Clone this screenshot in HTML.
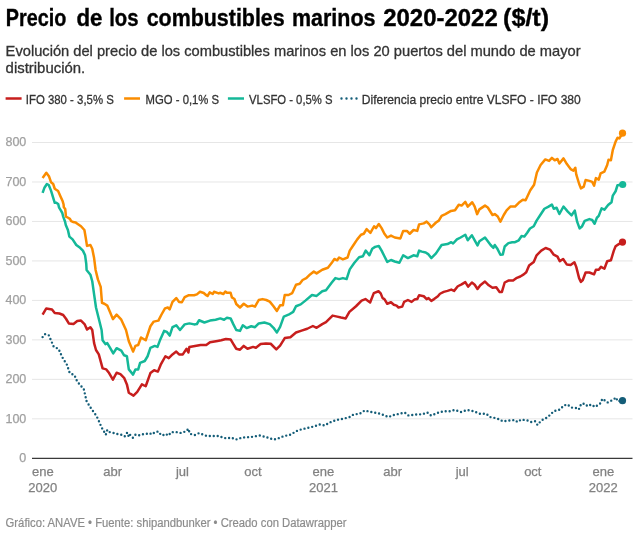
<!DOCTYPE html>
<html><head><meta charset="utf-8">
<style>
html,body{margin:0;padding:0;background:#fff;}
body{width:640px;height:535px;overflow:hidden;position:relative;}
svg{position:absolute;left:0;top:0;display:block;will-change:transform;}
text{font-family:"Liberation Sans", sans-serif;}
.title{font-size:23.3px;font-weight:bold;fill:#000;stroke:#000;stroke-width:0.35px;}
.sub{font-size:14.5px;fill:#333;stroke:#333;stroke-width:0.3px;}
.leg{font-size:13px;fill:#333;stroke:#333;stroke-width:0.3px;}
.ax{font-size:12.5px;fill:#a0a0a0;stroke:#a0a0a0;stroke-width:0.25px;}
.ax2{font-size:13px;fill:#828282;stroke:#828282;stroke-width:0.25px;}
.foot{font-size:12.3px;fill:#8c8c8c;stroke:#8c8c8c;stroke-width:0.2px;}
</style></head><body>
<svg width="640" height="535" viewBox="0 0 640 535">
<text x="5.75" y="25.9" class="title" textLength="60.55" lengthAdjust="spacingAndGlyphs">Precio</text><text x="76.50" y="25.9" class="title" textLength="26.00" lengthAdjust="spacingAndGlyphs">de</text><text x="109.20" y="25.9" class="title" textLength="29.30" lengthAdjust="spacingAndGlyphs">los</text><text x="146.70" y="25.9" class="title" textLength="138.00" lengthAdjust="spacingAndGlyphs">combustibles</text><text x="291.90" y="25.9" class="title" textLength="83.60" lengthAdjust="spacingAndGlyphs">marinos</text><text x="383.25" y="25.9" class="title" textLength="114.45" lengthAdjust="spacingAndGlyphs">2020-2022</text><text x="503.10" y="25.9" class="title" textLength="46.00" lengthAdjust="spacingAndGlyphs">($/t)</text>
<text x="5.6" y="55.8" class="sub" textLength="575" lengthAdjust="spacingAndGlyphs">Evolución del precio de los combustibles marinos en los 20 puertos del mundo de mayor</text>
<text x="5.6" y="73.2" class="sub" textLength="79.6" lengthAdjust="spacingAndGlyphs">distribución.</text>
<line x1="5.6" x2="21.6" y1="98.5" y2="98.5" stroke="#c71e1d" stroke-width="2.5"/>
<text x="25.8" y="103.75" class="leg" textLength="88" lengthAdjust="spacingAndGlyphs">IFO 380 - 3,5% S</text>
<line x1="124.1" x2="140" y1="98.5" y2="98.5" stroke="#fa8c00" stroke-width="2.5"/>
<text x="145.6" y="103.75" class="leg" textLength="73.5" lengthAdjust="spacingAndGlyphs">MGO - 0,1% S</text>
<line x1="227.9" x2="244" y1="98.5" y2="98.5" stroke="#14b898" stroke-width="2.5"/>
<text x="249.1" y="103.75" class="leg" textLength="83.4" lengthAdjust="spacingAndGlyphs">VLSFO - 0,5% S</text>
<line x1="341.5" x2="357.5" y1="98.5" y2="98.5" stroke="#145d78" stroke-width="2.4" stroke-dasharray="0 5" stroke-linecap="round"/>
<text x="361.8" y="103.75" class="leg" textLength="219" lengthAdjust="spacingAndGlyphs">Diferencia precio entre VLSFO - IFO 380</text>
<line x1="32" x2="632.5" y1="418.82" y2="418.82" stroke="#e6e6e6" stroke-width="1"/><line x1="32" x2="632.5" y1="379.35" y2="379.35" stroke="#e6e6e6" stroke-width="1"/><line x1="32" x2="632.5" y1="339.88" y2="339.88" stroke="#e6e6e6" stroke-width="1"/><line x1="32" x2="632.5" y1="300.40" y2="300.40" stroke="#e6e6e6" stroke-width="1"/><line x1="32" x2="632.5" y1="260.93" y2="260.93" stroke="#e6e6e6" stroke-width="1"/><line x1="32" x2="632.5" y1="221.45" y2="221.45" stroke="#e6e6e6" stroke-width="1"/><line x1="32" x2="632.5" y1="181.98" y2="181.98" stroke="#e6e6e6" stroke-width="1"/><line x1="32" x2="632.5" y1="142.50" y2="142.50" stroke="#e6e6e6" stroke-width="1"/>
<line x1="32" x2="632.5" y1="458.4" y2="458.4" stroke="#3a3a3a" stroke-width="1.3"/>
<text x="26.3" y="462.20" text-anchor="end" class="ax">0</text><text x="26.3" y="422.72" text-anchor="end" class="ax">100</text><text x="26.3" y="383.25" text-anchor="end" class="ax">200</text><text x="26.3" y="343.77" text-anchor="end" class="ax">300</text><text x="26.3" y="304.30" text-anchor="end" class="ax">400</text><text x="26.3" y="264.82" text-anchor="end" class="ax">500</text><text x="26.3" y="225.35" text-anchor="end" class="ax">600</text><text x="26.3" y="185.88" text-anchor="end" class="ax">700</text><text x="26.3" y="146.40" text-anchor="end" class="ax">800</text><text x="42.8" y="476.1" text-anchor="middle" class="ax2">ene</text><text x="42.8" y="491.75" text-anchor="middle" class="ax2">2020</text><text x="112.6" y="476.1" text-anchor="middle" class="ax2">abr</text><text x="182.4" y="476.1" text-anchor="middle" class="ax2">jul</text><text x="252.9" y="476.1" text-anchor="middle" class="ax2">oct</text><text x="323.4" y="476.1" text-anchor="middle" class="ax2">ene</text><text x="323.4" y="491.75" text-anchor="middle" class="ax2">2021</text><text x="392.6" y="476.1" text-anchor="middle" class="ax2">abr</text><text x="462.2" y="476.1" text-anchor="middle" class="ax2">jul</text><text x="532.8" y="476.1" text-anchor="middle" class="ax2">oct</text><text x="603.3" y="476.1" text-anchor="middle" class="ax2">ene</text><text x="603.3" y="491.75" text-anchor="middle" class="ax2">2022</text>
<path d="M42.60,337.10 L45.00,334.10 L48.75,335.25 L51.00,340.30 L53.80,346.90 L58.50,348.75 L62.25,357.20 L66.90,364.70 L69.75,373.10 L74.40,375.00 L77.25,381.60 L83.80,389.10 L86.60,401.25 L91.30,408.75 L96.00,415.30 L97.90,418.75 L99.75,423.10 L101.60,427.50 L103.50,430.60 L105.75,434.75 L107.25,430.00 L108.50,431.90 L112.25,432.50 L116.00,433.75 L119.10,434.40 L122.90,435.00 L124.75,436.25 L127.25,432.50 L128.75,436.60 L129.75,434.40 L132.90,437.75 L135.40,434.75 L138.50,435.60 L140.40,434.75 L144.10,434.00 L146.00,434.00 L149.75,433.10 L151.60,434.40 L155.40,431.90 L158.50,431.50 L161.00,435.00 L162.90,435.25 L165.40,433.75 L168.50,435.60 L171.00,432.25 L176.00,432.00 L181.00,433.00 L186.00,431.25 L188.50,428.75 L189.75,433.75 L194.75,435.00 L199.10,433.10 L203.20,434.70 L207.00,436.00 L219.10,436.00 L223.20,437.80 L227.00,438.40 L231.00,437.50 L236.00,439.50 L242.25,437.50 L251.00,437.00 L259.75,435.50 L267.25,437.50 L273.50,439.50 L277.25,438.75 L283.50,436.25 L291.00,434.50 L296.00,431.25 L301.00,429.50 L307.25,428.00 L314.75,426.25 L319.75,424.50 L324.75,425.50 L329.75,422.50 L336.00,420.00 L343.50,418.75 L349.75,417.00 L353.50,414.50 L359.75,413.75 L364.75,410.50 L371.00,412.00 L377.25,413.00 L382.25,414.50 L388.50,417.00 L393.50,415.00 L399.75,413.75 L404.75,412.50 L408.50,415.50 L416.00,414.50 L422.25,414.25 L427.25,412.50 L431.00,415.50 L437.25,413.00 L443.50,411.25 L449.75,411.25 L454.75,410.00 L461.00,412.00 L467.25,410.00 L473.50,411.25 L480.00,413.75 L486.25,413.75 L490.00,417.00 L495.00,418.00 L500.00,419.50 L502.50,421.25 L510.00,420.50 L515.00,420.00 L517.50,422.00 L521.25,419.50 L527.50,420.50 L531.25,422.00 L535.00,421.25 L537.50,425.00 L541.25,420.50 L546.25,418.00 L550.00,415.00 L553.75,411.25 L560.00,409.50 L563.75,405.50 L567.50,404.50 L571.25,407.50 L576.25,408.00 L578.75,409.50 L581.25,403.75 L585.00,403.75 L587.50,406.25 L591.25,404.50 L595.00,407.00 L600.00,403.75 L602.50,398.75 L607.50,402.50 L612.50,400.00 L616.25,397.50 L617.50,401.25 L622.50,400.75" fill="none" stroke="#145d78" stroke-width="2.4" stroke-dasharray="0 3.95" stroke-linecap="round" stroke-linejoin="round"/>
<path d="M42.60,314.60 L46.30,308.40 L52.00,309.40 L54.75,313.10 L59.40,313.50 L63.20,315.00 L66.00,318.75 L68.80,323.40 L73.50,324.00 L77.25,321.00 L81.00,320.60 L84.75,324.40 L87.00,329.60 L90.40,327.20 L92.25,330.00 L94.10,343.10 L96.00,350.00 L98.80,354.40 L102.60,368.40 L106.30,369.40 L109.10,373.10 L112.90,379.70 L116.60,372.75 L120.40,374.10 L124.10,377.80 L126.90,384.40 L128.80,392.80 L133.50,395.60 L137.25,391.90 L141.90,384.40 L145.70,386.25 L150.40,373.10 L154.10,370.30 L157.90,371.60 L160.70,364.70 L165.40,356.25 L168.75,358.10 L172.50,354.40 L176.25,351.60 L179.10,354.40 L182.80,354.40 L186.60,348.75 L188.40,352.50 L189.40,346.90 L195.00,345.90 L200.60,345.00 L206.25,345.00 L210.00,342.20 L217.50,340.90 L221.25,340.30 L225.90,339.00 L230.60,339.40 L233.40,344.10 L236.25,348.75 L240.00,349.70 L243.75,345.90 L247.50,348.75 L253.10,346.90 L255.90,347.80 L260.60,344.10 L266.00,343.40 L270.70,343.75 L276.30,349.40 L280.10,345.60 L284.75,338.10 L290.40,337.20 L296.00,332.50 L301.60,330.60 L307.25,328.75 L312.90,326.00 L316.60,327.80 L322.25,324.10 L326.00,322.20 L332.60,315.60 L337.25,316.60 L341.00,317.50 L345.70,318.40 L349.40,311.90 L356.00,306.25 L361.60,300.60 L365.40,299.10 L370.10,302.50 L373.80,293.10 L378.50,291.25 L380.70,293.40 L382.60,298.10 L384.40,299.10 L387.25,303.75 L391.00,302.25 L393.80,304.70 L396.60,305.60 L398.50,307.50 L402.25,306.60 L404.10,301.90 L407.90,300.00 L411.60,301.90 L414.40,299.60 L417.25,299.10 L419.10,295.30 L423.80,296.25 L426.60,299.10 L428.50,298.10 L431.30,300.90 L434.10,299.10 L437.90,296.25 L440.00,293.75 L443.75,291.90 L447.50,290.90 L451.25,289.60 L454.10,290.90 L457.80,286.25 L461.60,284.40 L465.30,282.10 L468.10,286.60 L471.90,282.50 L474.70,284.75 L477.50,289.00 L480.30,285.30 L485.00,281.60 L488.75,285.30 L492.50,287.75 L496.25,287.20 L499.60,291.90 L501.90,291.90 L504.70,282.50 L508.40,280.60 L513.10,280.60 L516.90,277.80 L520.30,276.50 L523.75,274.40 L526.25,272.20 L529.10,265.60 L533.75,261.90 L536.60,255.30 L541.25,250.60 L545.60,248.00 L550.00,249.60 L553.75,254.70 L557.50,256.60 L559.75,261.25 L563.10,259.00 L566.90,264.60 L570.60,265.00 L574.40,262.20 L576.25,266.90 L579.10,278.10 L580.90,281.90 L582.80,280.00 L585.60,272.50 L589.40,272.50 L594.10,274.40 L595.90,269.70 L598.75,269.70 L601.00,266.90 L604.40,268.75 L607.20,261.25 L610.90,260.30 L613.75,250.90 L615.60,246.25 L618.40,244.40 L622.50,242.00" fill="none" stroke="#c71e1d" stroke-width="2.5" stroke-linejoin="round"/>
<path d="M42.60,192.90 L44.40,187.80 L46.90,184.00 L48.75,185.00 L51.00,190.60 L54.75,202.80 L56.00,202.70 L58.20,204.00 L59.10,207.60 L60.50,209.90 L62.30,213.00 L63.20,216.60 L65.00,221.50 L65.80,225.00 L67.90,230.00 L69.40,236.60 L72.60,239.40 L76.30,245.00 L80.10,247.80 L82.90,250.60 L85.10,255.30 L86.25,263.75 L86.60,270.00 L90.40,274.70 L92.25,281.25 L94.10,294.40 L96.00,307.50 L98.80,318.75 L101.60,330.00 L102.60,340.30 L105.40,344.10 L107.25,343.10 L110.10,347.80 L113.25,353.40 L116.60,348.20 L121.30,350.60 L124.10,355.30 L126.90,356.25 L128.80,369.40 L133.10,374.60 L135.40,369.40 L138.20,369.40 L140.10,362.80 L144.75,361.00 L147.60,356.25 L150.40,347.80 L154.70,345.90 L157.50,346.90 L160.30,339.40 L164.10,330.90 L166.90,331.90 L169.70,335.60 L172.50,327.20 L176.25,325.30 L180.00,330.00 L184.70,324.40 L189.40,323.40 L194.10,324.40 L196.90,324.00 L199.10,320.25 L204.40,322.50 L210.00,320.60 L215.60,319.70 L220.30,318.40 L224.10,319.70 L226.90,317.80 L230.60,318.40 L233.40,324.40 L236.25,330.00 L240.00,330.90 L242.80,325.30 L246.60,328.10 L251.25,326.25 L255.00,327.20 L258.75,323.40 L264.40,322.50 L269.75,324.10 L273.50,327.80 L276.90,332.50 L280.10,326.90 L283.80,316.60 L288.50,314.70 L293.20,311.90 L296.00,306.25 L300.70,304.40 L305.40,300.60 L312.00,295.00 L316.60,295.90 L322.25,291.25 L326.00,290.30 L331.60,282.80 L335.40,278.10 L339.10,279.10 L342.90,278.10 L346.60,279.10 L349.75,269.40 L354.40,262.80 L359.10,257.20 L362.90,256.25 L365.70,250.60 L369.40,255.30 L372.25,248.75 L375.10,246.90 L378.80,246.00 L381.60,250.60 L384.40,256.25 L387.25,261.90 L391.00,260.00 L394.75,261.50 L399.40,262.80 L403.20,255.30 L407.90,258.10 L413.50,255.30 L417.25,256.25 L419.10,250.60 L421.90,251.60 L425.70,252.50 L428.50,254.40 L431.30,258.10 L436.00,253.40 L441.60,245.00 L447.50,244.10 L451.25,242.20 L453.10,243.50 L456.90,239.40 L460.60,237.50 L465.30,234.70 L467.75,240.30 L471.90,235.25 L474.70,240.30 L477.50,245.40 L479.40,241.25 L485.00,237.50 L487.80,241.25 L490.60,245.00 L493.40,247.80 L494.75,245.00 L497.20,248.40 L500.40,254.75 L502.80,254.40 L504.70,246.50 L508.40,243.10 L512.20,242.20 L515.00,242.20 L518.75,240.30 L521.60,236.00 L524.40,236.60 L527.20,232.80 L530.00,228.50 L533.75,226.25 L536.60,220.60 L540.30,215.00 L544.40,208.75 L548.10,206.90 L551.90,204.60 L553.75,208.75 L556.60,207.80 L559.40,214.00 L563.50,206.50 L567.80,211.60 L571.60,215.30 L574.75,210.60 L577.20,221.90 L579.60,228.40 L581.90,226.60 L584.70,220.90 L589.40,219.10 L592.20,220.00 L594.60,223.75 L596.90,217.75 L598.75,215.90 L601.60,208.40 L604.40,209.70 L608.10,205.00 L611.50,202.20 L612.80,195.60 L615.60,191.25 L617.50,185.25 L622.70,184.50" fill="none" stroke="#14b898" stroke-width="2.5" stroke-linejoin="round"/>
<path d="M42.60,177.90 L46.30,172.80 L49.10,176.60 L51.00,182.20 L53.20,184.00 L54.75,188.75 L58.10,191.00 L60.40,196.25 L62.70,201.30 L63.60,204.50 L63.80,207.20 L65.20,209.00 L65.60,212.60 L65.90,216.60 L67.70,217.50 L69.90,218.80 L71.20,221.10 L73.00,222.00 L75.70,222.40 L76.60,223.30 L81.00,226.25 L84.40,230.00 L85.70,237.50 L87.00,245.90 L90.40,245.00 L92.25,248.75 L94.10,258.10 L95.60,270.00 L97.90,279.40 L100.70,286.90 L102.00,302.80 L104.40,303.75 L107.25,305.60 L110.10,312.20 L112.90,319.10 L116.60,314.60 L121.30,319.70 L126.00,330.00 L128.80,341.25 L133.10,351.60 L135.40,345.90 L138.20,345.00 L141.00,337.50 L145.70,340.30 L150.40,326.25 L153.75,321.60 L158.40,320.60 L161.25,315.00 L165.00,308.40 L167.80,307.50 L169.70,309.40 L172.50,301.90 L176.25,298.10 L179.10,301.90 L181.90,302.25 L184.70,297.20 L188.40,295.30 L194.10,295.30 L196.90,294.40 L200.00,291.80 L203.75,293.00 L206.25,295.25 L207.50,296.00 L209.70,292.40 L212.80,294.00 L214.00,291.80 L218.75,293.40 L220.00,292.75 L223.40,294.00 L225.30,291.50 L226.90,292.75 L230.60,292.75 L231.90,297.40 L234.40,299.00 L236.25,304.00 L240.00,307.50 L243.75,303.75 L247.50,306.60 L252.20,305.60 L255.00,306.60 L258.75,300.00 L262.50,299.10 L266.25,300.00 L269.75,301.60 L273.50,306.25 L276.90,310.90 L280.10,305.30 L282.90,305.30 L284.75,295.00 L288.50,295.00 L292.25,293.10 L296.00,284.70 L299.75,283.75 L302.60,280.00 L306.30,278.10 L310.10,274.40 L313.80,271.60 L316.60,273.40 L322.25,269.70 L327.90,267.80 L331.60,263.10 L334.40,259.00 L337.25,260.30 L339.10,257.50 L342.90,259.40 L347.60,257.50 L349.75,250.60 L353.50,245.00 L357.25,239.40 L361.00,234.70 L363.80,233.75 L366.60,229.10 L370.40,232.80 L374.10,226.25 L376.00,228.10 L378.80,224.00 L381.60,228.10 L384.40,233.75 L387.25,237.50 L391.00,235.60 L394.75,237.50 L400.40,238.40 L403.20,230.90 L406.90,230.90 L409.75,233.75 L413.50,230.00 L417.25,230.90 L419.10,224.40 L423.80,223.40 L426.60,221.60 L429.40,224.40 L431.30,227.20 L436.00,222.50 L438.80,220.60 L441.60,215.90 L445.40,214.10 L451.00,210.90 L455.00,210.30 L458.75,204.70 L461.60,205.60 L465.30,201.90 L467.75,206.60 L472.25,202.25 L474.70,206.60 L477.10,214.10 L479.40,209.40 L485.00,205.60 L487.80,207.50 L492.50,215.00 L494.75,214.10 L497.75,216.50 L500.40,221.60 L503.75,215.00 L506.60,210.30 L510.30,206.60 L515.00,206.60 L518.75,202.80 L522.80,199.70 L525.60,200.25 L530.30,190.30 L534.10,184.70 L536.90,172.50 L540.60,165.00 L545.30,159.40 L549.10,160.90 L551.90,157.90 L554.70,160.30 L557.50,159.00 L559.40,163.50 L563.50,158.40 L566.90,164.10 L570.60,169.10 L573.40,170.60 L575.30,167.80 L576.25,174.40 L579.10,183.75 L580.90,188.40 L583.75,186.60 L585.60,180.00 L589.40,180.90 L592.20,181.90 L594.10,185.60 L595.90,178.10 L598.75,179.60 L600.60,173.40 L604.40,171.60 L607.20,165.00 L608.50,159.75 L610.90,160.30 L612.80,150.00 L615.60,141.60 L617.50,137.80 L619.40,138.40 L622.50,133.30" fill="none" stroke="#fa8c00" stroke-width="2.5" stroke-linejoin="round"/>
<circle cx="622.5" cy="133.2" r="3.6" fill="#fa8c00"/>
<circle cx="622.7" cy="184.5" r="3.6" fill="#14b898"/>
<circle cx="622.5" cy="242.1" r="3.6" fill="#c71e1d"/>
<circle cx="622.5" cy="400.7" r="3.6" fill="#145d78"/>
<text x="5.6" y="526.6" class="foot" textLength="341" lengthAdjust="spacingAndGlyphs">Gráfico: ANAVE • Fuente: shipandbunker • Creado con Datawrapper</text>
</svg>
</body></html>
